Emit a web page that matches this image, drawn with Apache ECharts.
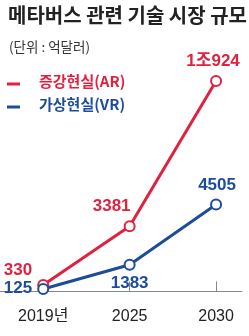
<!DOCTYPE html>
<html>
<head>
<meta charset="utf-8">
<script src="https://cdn.jsdelivr.net/npm/echarts@6/dist/echarts.min.js"></script>
<style>
  html, body { margin: 0; padding: 0; background: #fff; }
  #chart { width: 249px; height: 336px; }
</style>
</head>
<body>
<div id="chart"></div>
<script>
const years = ["2019년", "2025", "2030"];
const seriesNames = ["증강현실(AR)", "가상현실(VR)"];
const arValues = [330, 3381, 10924];
const vrValues = [125, 1383, 4505];
const arLabels = ["330", "3381", "1조924"];
const vrLabels = ["125", "1383", "4505"];

const RED = "#e0213f";
const BLUE = "#1d4c9c";
const KR_FONT = "'Noto Sans CJK KR'";
const NUM_FONT = "'Liberation Sans', 'Noto Sans CJK KR', sans-serif";

// 라벨 위치 (점 기준)
const arLabelPos = [
  { position: "left", distance: 5, offset: [0, -15] },
  { position: "top", distance: 5, offset: [-18, 0] },
  { position: "top", distance: 5, offset: [-3, 0] },
];
const vrLabelPos = [
  { position: "left", distance: 5, offset: [0, -1] },
  { position: "bottom", distance: 4, offset: [0, 0] },
  { position: "top", distance: 5, offset: [1, 0] },
];

const makeData = (values, labels, pos) =>
  values.map((v, i) => ({
    value: [i, v],
    label: { formatter: labels[i], ...pos[i] },
  }));

const makeSeries = (name, color, values, labels, pos) => ({
  name: name,
  type: "line",
  data: makeData(values, labels, pos),
  symbol: "emptyCircle", // 흰 원 + 테두리
  symbolSize: 10,
  lineStyle: { width: 3, color: color },
  itemStyle: { color: color, borderWidth: 2 },
  label: {
    show: true,
    color: color,
    fontFamily: NUM_FONT,
    fontWeight: "bold",
    fontSize: 17,
  },
  emphasis: { disabled: true },
  animation: false,
});

// 범례 (선 + 글자)
const legendItem = (name, color, y) => [
  { type: "rect", left: 7, top: y - 1.5, shape: { width: 13, height: 3 }, style: { fill: color } },
  {
    type: "text",
    left: 39,
    top: y - 10,
    style: { text: name, fill: color, font: "bold 15px " + KR_FONT },
  },
];

const chart = echarts.init(document.getElementById("chart"));
chart.setOption({
  backgroundColor: "#fff",
  title: [
    {
      text: "메타버스 관련 기술 시장 규모",
      left: 3,
      top: 0,
      textStyle: { fontFamily: KR_FONT, fontSize: 20, fontWeight: "bold", color: "#222" },
    },
    {
      text: "(단위 : 억달러)",
      left: 4,
      top: 35,
      textStyle: { fontFamily: KR_FONT, fontSize: 13.5, fontWeight: "normal", color: "#333" },
    },
  ],
  graphic: [...legendItem(seriesNames[0], RED, 84), ...legendItem(seriesNames[1], BLUE, 107)],
  grid: { left: 0, right: 7, top: 79.5, bottom: 35 },
  xAxis: {
    type: "value",
    min: -0.5,
    max: 2.3,
    splitLine: { show: false },
    axisLine: { lineStyle: { color: "#888", width: 1 } },
    axisTick: {
      inside: true,
      length: 10,
      customValues: [0, 1, 2],
      lineStyle: { color: "#888" },
    },
    axisLabel: {
      customValues: [0, 1, 2],
      formatter: (v) => years[v],
      margin: 8,
      fontFamily: NUM_FONT,
      fontSize: 16,
      color: "#222",
    },
  },
  yAxis: {
    type: "value",
    min: -500,
    max: 11000,
    show: false,
  },
  series: [
    makeSeries(seriesNames[0], RED, arValues, arLabels, arLabelPos),
    makeSeries(seriesNames[1], BLUE, vrValues, vrLabels, vrLabelPos),
  ],
});
</script>
</body>
</html>
